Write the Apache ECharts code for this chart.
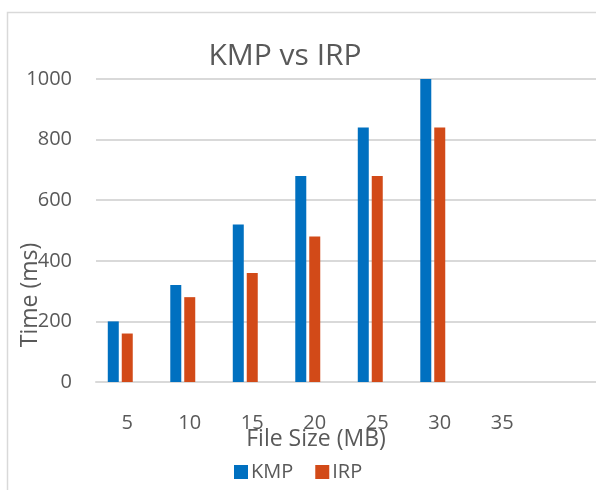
<!DOCTYPE html>
<html>
<head>
<meta charset="utf-8">
<script src="https://cdn.jsdelivr.net/npm/echarts@6/dist/echarts.min.js"></script>
<style>
html,body{margin:0;padding:0;background:#fff;}
#c{width:596px;height:490px;}
</style>
</head>
<body>
<div id="c"></div>
<script>
var categories = ['5', '10', '15', '20', '25', '30', '35', ''];
var kmpValues = [200, 320, 520, 680, 840, 1000, null, null];
var irpValues = [160, 280, 360, 480, 680, 840, null, null];
var yTicks = {min: 0, max: 1000, interval: 200};

var FONT = 'Open Sans';
var TXT = '#595959';
var chart = echarts.init(document.getElementById('c'), null, {renderer: 'canvas'});
chart.setOption({
  animation: false,
  backgroundColor: '#fff',
  textStyle: {fontFamily: FONT, color: TXT},
  title: {
    text: 'KMP vs IRP',
    left: 280, top: 36, textAlign: 'center',
    textStyle: {fontFamily: FONT, fontSize: 30, fontWeight: 'normal', color: TXT}
  },
  legend: {
    data: ['KMP', 'IRP'],
    left: 229, top: 457,
    icon: 'rect', itemWidth: 14, itemHeight: 14, itemGap: 22,
    textStyle: {fontFamily: FONT, fontSize: 20, color: TXT, padding: [0, 0, 0, -2]}
  },
  grid: {left: 96, right: -2, top: 79, bottom: 108, containLabel: false},
  xAxis: {
    type: 'category',
    data: categories,
    axisLine: {show: true, lineStyle: {color: '#d9d9d9', width: 2}},
    axisTick: {show: false},
    axisLabel: {fontFamily: FONT, fontSize: 20, color: TXT, margin: 31},
    splitLine: {show: false}
  },
  yAxis: {
    type: 'value',
    min: yTicks.min, max: yTicks.max, interval: yTicks.interval,
    axisLine: {show: false},
    axisTick: {show: false},
    axisLabel: {fontFamily: FONT, fontSize: 20, color: TXT, margin: 24,
                formatter: function (v) { return String(v); }},
    splitLine: {lineStyle: {color: '#d9d9d9', width: 2}}
  },
  graphic: [
    {type: 'rect', silent: true, z: -10,
     shape: {x: 7.5, y: 12.5, width: 700, height: 600},
     style: {fill: null, stroke: '#d9d9d9', lineWidth: 1.5}},
    {type: 'text', x: 30, y: 295, rotation: Math.PI / 2,
     style: {text: 'Time (ms)', font: '23px "Open Sans"', fill: TXT,
             textAlign: 'center', textVerticalAlign: 'middle'}},
    {type: 'text', x: 316, y: 439,
     style: {text: 'File Size (MB)', font: '23px "Open Sans"', fill: TXT,
             textAlign: 'center', textVerticalAlign: 'middle'}}
  ],
  series: [
    {name: 'KMP', type: 'bar', data: kmpValues, barWidth: 11, barGap: '27%',
     itemStyle: {color: '#0070C0'}},
    {name: 'IRP', type: 'bar', data: irpValues, barWidth: 11, barGap: '27%',
     itemStyle: {color: '#D24A18'}},
    {name: 'blank', type: 'bar', data: [], barWidth: 11, barGap: '27%'}
  ]
});
</script>
</body>
</html>
